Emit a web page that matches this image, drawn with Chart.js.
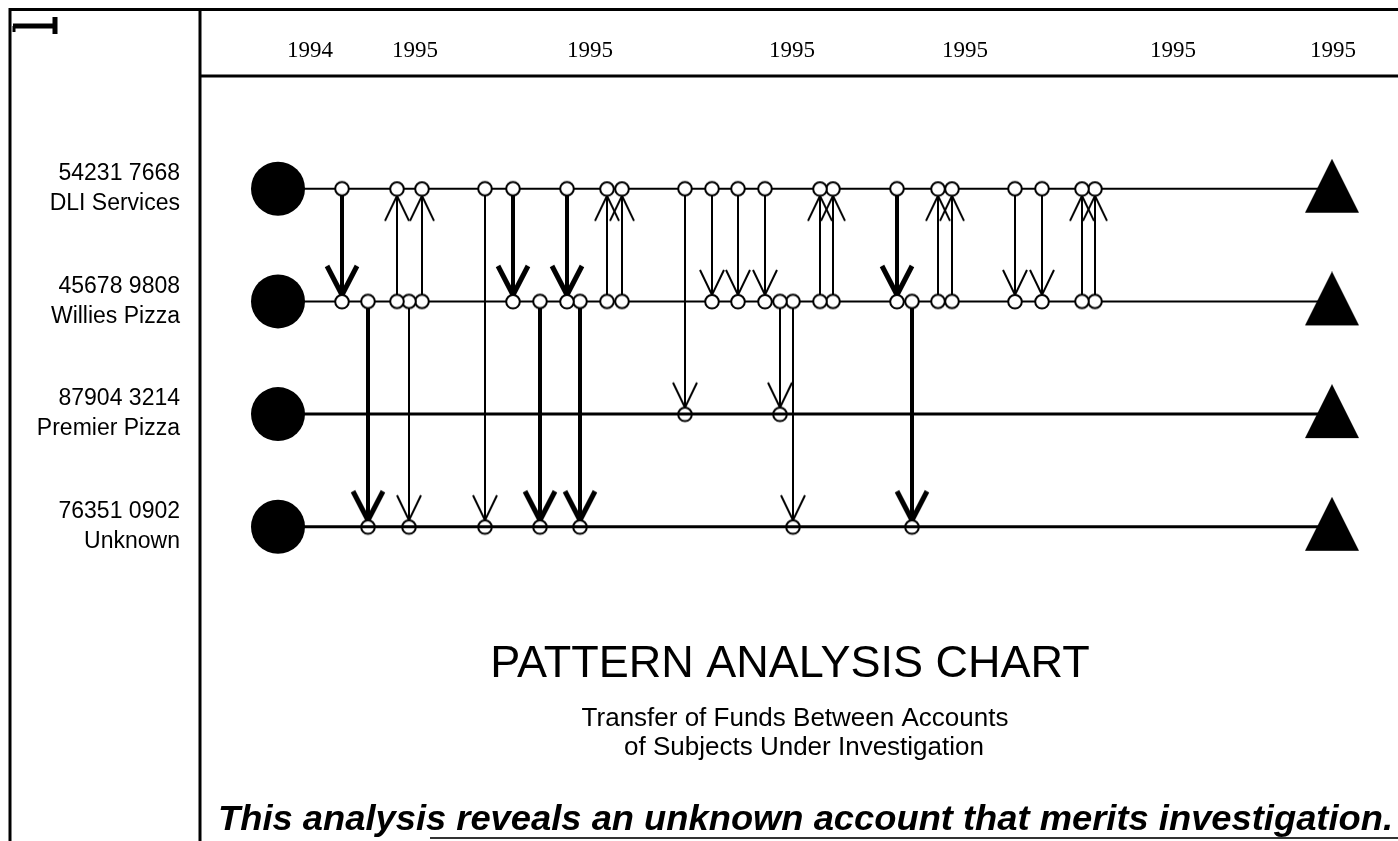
<!DOCTYPE html>
<html>
<head>
<meta charset="utf-8">
<title>Pattern Analysis Chart</title>
<script src="https://cdn.jsdelivr.net/npm/chart.js@4.4.1/dist/chart.umd.min.js"></script>
<style>
  html, body { margin: 0; padding: 0; background: #fff; }
  #wrap { position: relative; width: 1398px; height: 841px; }
</style>
</head>
<body>
<div id="wrap"><canvas id="patternChart"></canvas></div>
<script>
// accounts, top to bottom
var accountNumbers = ["54231 7668", "45678 9808", "87904 3214", "76351 0902"];
var accountNames = ["DLI Services", "Willies Pizza", "Premier Pizza", "Unknown"];
var accountRows = [0, 1, 2, 3];
var accountOpen = [7.8, 7.8, 7.8, 7.8];
var accountClose = [113.2, 113.2, 113.2, 113.2];

// dates along the top of the time axis
var dateTickPos = [11.0, 21.5, 39.0, 59.2, 76.5, 97.3, 113.3];
var dateLabels = ["1994", "1995", "1995", "1995", "1995", "1995", "1995"];

// transfers: when, from which account, to which account, large or not
var transferTime = [14.2, 16.8, 19.7, 20.9, 22.2, 28.5, 31.3, 34.0, 36.7, 38.0, 40.7, 42.2, 48.5, 51.2,
                    53.8, 56.5, 58.0, 59.3, 62.0, 63.3, 69.7, 71.2, 73.8, 75.2, 81.5, 84.2, 88.2, 89.5];
var transferFrom = [0, 1, 1, 1, 1, 0, 0, 1, 0, 1, 1, 1, 0, 0, 0, 0, 1, 1, 1, 1, 0, 1, 1, 1, 0, 0, 1, 1];
var transferTo   = [1, 3, 0, 3, 0, 3, 1, 3, 1, 3, 0, 0, 2, 1, 1, 1, 2, 3, 0, 0, 1, 3, 0, 0, 1, 1, 0, 0];
var transferLarge = [1, 1, 0, 0, 0, 0, 1, 1, 1, 1, 0, 0, 0, 0, 0, 0, 0, 0, 0, 0, 1, 1, 0, 0, 0, 0, 0, 0];

function makeCanvas(w, h) {
    var c = document.createElement('canvas');
    c.width = w;
    c.height = h;
    return c;
}

// small open circle used where a transfer leaves an account
function makeNode() {
    var c = makeCanvas(20, 20);
    var g = c.getContext('2d');
    g.beginPath();
    g.arc(10, 10, 6.8, 0, Math.PI * 2);
    g.fillStyle = '#fff';
    g.fill();
    g.lineWidth = 2;
    g.strokeStyle = '#000';
    g.stroke();
    return c;
}

// open circle with the arrow head landing on it (dir 1 = pointing down, -1 = pointing up)
function makeArrowNode(dir, large) {
    var hw = large ? 15 : 12, ah = large ? 29 : 25, lw = large ? 5 : 2;
    var r = 6.8;
    var w = 2 * hw + 12, h = 2 * (r + ah + 8);
    var c = makeCanvas(w, h);
    var g = c.getContext('2d');
    var cx = w / 2, cy = h / 2;
    var tipY = cy - dir * r;
    g.strokeStyle = '#000';
    g.lineWidth = lw;
    g.lineJoin = 'miter';
    g.beginPath();
    g.moveTo(cx - hw, tipY - dir * ah);
    g.lineTo(cx, tipY);
    g.lineTo(cx + hw, tipY - dir * ah);
    g.stroke();
    g.beginPath();
    g.arc(cx, cy, r, 0, Math.PI * 2);
    g.fillStyle = '#fff';
    g.fill();
    g.lineWidth = 2;
    g.stroke();
    return c;
}

function makeTriangle() {
    var c = makeCanvas(54, 60);
    var g = c.getContext('2d');
    g.beginPath();
    g.moveTo(27, 0);
    g.lineTo(54, 54);
    g.lineTo(0, 54);
    g.closePath();
    g.fillStyle = '#000';
    g.fill();
    return c;
}

var nodeImg = makeNode();
var triangleImg = makeTriangle();
var arrowImgs = {
    down: [makeArrowNode(1, false), makeArrowNode(1, true)],
    up: [makeArrowNode(-1, false), makeArrowNode(-1, true)]
};

var datasets = [];

// account time lines: filled circle at the start, triangle at the end
for (var r = 0; r < accountRows.length; r++) {
    datasets.push({
        data: [{x: accountOpen[r], y: accountRows[r]}, {x: accountClose[r], y: accountRows[r]}],
        showLine: true,
        borderColor: '#000',
        borderWidth: r < 2 ? 2 : 3,
        pointStyle: ['circle', triangleImg],
        pointRadius: 27,
        pointBackgroundColor: '#000',
        pointBorderColor: '#000',
        pointBorderWidth: 0,
        order: r < 2 ? 10 : 0 // lower two lines are drawn over the nodes
    });
}

// one vertical arrow per transfer
for (var i = 0; i < transferTime.length; i++) {
    var dir = transferTo[i] > transferFrom[i] ? 'down' : 'up';
    datasets.push({
        data: [{x: transferTime[i], y: transferFrom[i]}, {x: transferTime[i], y: transferTo[i]}],
        showLine: true,
        borderColor: '#000',
        borderWidth: transferLarge[i] ? 4 : 2,
        pointStyle: [nodeImg, arrowImgs[dir][transferLarge[i]]],
        pointRadius: 7,
        order: 5
    });
}

function noPadding(scale) {
    scale.paddingLeft = 0;
    scale.paddingRight = 0;
    scale.paddingTop = 0;
    scale.paddingBottom = 0;
}

var framePlugin = {
    id: 'frame',
    beforeDraw: function(chart) {
        var ctx = chart.ctx, a = chart.chartArea;
        ctx.save();
        ctx.fillStyle = '#fff';
        ctx.fillRect(0, 0, chart.width, chart.height);
        ctx.strokeStyle = '#000';
        ctx.lineWidth = 3;
        ctx.beginPath();
        ctx.moveTo(10, chart.height); ctx.lineTo(10, 9.5); ctx.lineTo(chart.width, 9.5);
        ctx.moveTo(a.left, 9.5); ctx.lineTo(a.left, chart.height);
        ctx.moveTo(a.left, a.top); ctx.lineTo(chart.width, a.top);
        ctx.stroke();
        // little mark in the corner
        ctx.lineWidth = 5;
        ctx.beginPath();
        ctx.moveTo(13, 26); ctx.lineTo(56, 26);
        ctx.moveTo(55, 17); ctx.lineTo(55, 34);
        ctx.stroke();
        ctx.lineWidth = 3;
        ctx.beginPath();
        ctx.moveTo(14, 26); ctx.lineTo(14, 32);
        ctx.stroke();
        ctx.restore();
    },
    afterDraw: function(chart) {
        var ctx = chart.ctx;
        ctx.save();
        ctx.fillStyle = '#000';
        ctx.textAlign = 'center';
        ctx.textBaseline = 'alphabetic';
        ctx.font = '45px "Liberation Sans", Arial, sans-serif';
        ctx.fillText('PATTERN ANALYSIS CHART', 790, 677);
        ctx.font = '26px "Liberation Sans", Arial, sans-serif';
        ctx.fillText('Transfer of Funds Between Accounts', 795, 726);
        ctx.fillText('of Subjects Under Investigation', 804, 755);

        // bottom remark, squeezed to the width of the original line
        var msg = 'This analysis reveals an unknown account that merits investigation.';
        ctx.font = 'italic bold 35px "Liberation Sans", Arial, sans-serif';
        var w = ctx.measureText(msg).width;
        var target = 1175;
        ctx.textAlign = 'left';
        ctx.translate(218, 830);
        ctx.scale(target / w, 1);
        ctx.fillText(msg, 0, 0);
        ctx.setTransform(1, 0, 0, 1, 0, 0);
        ctx.strokeStyle = '#333';
        ctx.lineWidth = 2;
        ctx.beginPath();
        ctx.moveTo(430, 838); ctx.lineTo(chart.width, 838);
        ctx.stroke();
        ctx.restore();
    }
};

new Chart(document.getElementById('patternChart'), {
    type: 'scatter',
    data: { datasets: datasets },
    options: {
        responsive: true,
        maintainAspectRatio: false,
        animation: false,
        events: [],
        layout: { autoPadding: false, padding: { top: 9, left: 10, right: 0, bottom: 0 } },
        plugins: {
            legend: { display: false },
            tooltip: { enabled: false }
        },
        scales: {
            x: {
                type: 'linear',
                position: 'top',
                min: 0,
                max: 119.8,
                grid: { display: false, drawTicks: false },
                border: { display: false },
                afterFit: function(scale) { scale.height = 67; noPadding(scale); },
                afterBuildTicks: function(scale) {
                    scale.ticks = dateTickPos.map(function(v) { return {value: v}; });
                },
                ticks: {
                    autoSkip: false,
                    maxRotation: 0,
                    padding: 11,
                    color: '#000',
                    font: { family: '"Liberation Serif", "Times New Roman", serif', size: 23 },
                    callback: function(value, index) { return dateLabels[index]; }
                }
            },
            y: {
                type: 'linear',
                reverse: true,
                min: -1.0,
                max: 5.788,
                grid: { display: false, drawTicks: false },
                border: { display: false },
                afterFit: function(scale) { scale.width = 190; noPadding(scale); },
                afterBuildTicks: function(scale) {
                    scale.ticks = accountRows.map(function(v) { return {value: v}; });
                },
                ticks: {
                    autoSkip: false,
                    padding: 20,
                    color: '#000',
                    font: { family: '"Liberation Sans", Arial, sans-serif', size: 23, lineHeight: 1.3 },
                    callback: function(value, index) { return [accountNumbers[index], accountNames[index]]; }
                }
            }
        }
    },
    plugins: [framePlugin]
});
</script>
</body>
</html>
